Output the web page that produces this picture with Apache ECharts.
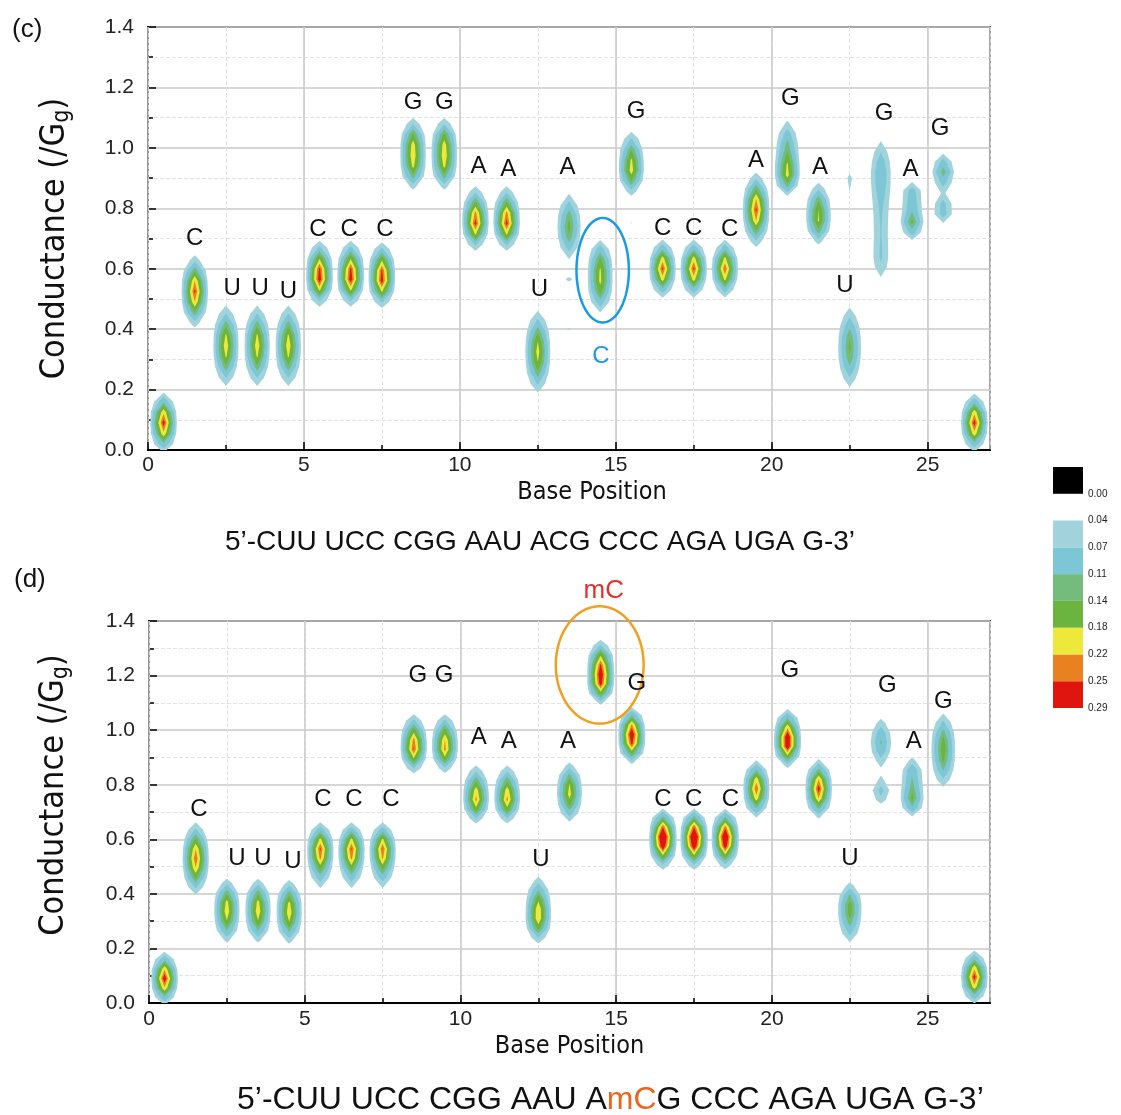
<!DOCTYPE html>
<html>
<head>
<meta charset="utf-8">
<script src="https://cdn.jsdelivr.net/npm/echarts@6/dist/echarts.min.js"></script>
<style>html,body{margin:0;padding:0;background:#fff}#chart{width:1121px;height:1115px}</style>
</head>
<body>
<div id="chart"></div>
<script>
// ---------------- data ----------------
// contour levels (density) and their colours
const LEVELS = [0.04, 0.07, 0.11, 0.14, 0.18, 0.22, 0.25];
const colorbarLabels = ['0.29', '0.25', '0.22', '0.18', '0.14', '0.11', '0.07', '0.04', '0.00'];

// panel (c): density peaks  [base position, conductance centre, peak density, spread]
const cPos    = [0.5, 1.5, 2.5, 3.5, 4.5, 5.5, 5.5, 6.5, 6.5, 7.5, 7.5, 8.5, 8.5, 9.5, 9.5, 10.5, 10.5, 11.5, 11.5, 12.5, 13.5, 13.5, 13.5, 14.5, 14.5, 15.5, 15.5, 15.5, 16.5, 17.5, 18.5, 19.5, 20.5, 20.5, 21.5, 21.5, 22.5, 22.5, 23.5, 23.5, 23.5, 23.5, 24.5, 24.5, 24.5, 25.5, 25.5, 26.5];
const cCond   = [0.09, 0.525, 0.345, 0.345, 0.345, 0.565, 0.63, 0.565, 0.63, 0.56, 0.625, 0.94, 1.02, 0.94, 1.02, 0.75, 0.82, 0.75, 0.82, 0.325, 0.74, 0.565, 0.40, 0.56, 0.64, 0.925, 1.0, 0.752, 0.60, 0.60, 0.60, 0.795, 0.91, 1.0, 0.76, 0.83, 0.89, 0.34, 0.92, 0.74, 0.62, 0.10, 0.755, 0.845, 0.175, 0.92, 0.795, 0.09];
const cPeak   = [0.27, 0.26, 0.21, 0.21, 0.21, 0.25, 0.10, 0.25, 0.10, 0.245, 0.10, 0.16, 0.16, 0.16, 0.16, 0.25, 0.07, 0.25, 0.07, 0.20, 0.155, 0.05, 0.045, 0.185, 0.06, 0.19, 0.08, 0.043, 0.26, 0.26, 0.25, 0.26, 0.16, 0.12, 0.17, 0.08, 0.048, 0.15, 0.10, 0.065, 0.045, 0.041, 0.15, 0.10, 0.045, 0.13, 0.10, 0.27];
const cSpread = [0.05, 0.06, 0.072, 0.072, 0.072, 0.045, 0.04, 0.045, 0.04, 0.045, 0.04, 0.045, 0.045, 0.045, 0.045, 0.045, 0.04, 0.045, 0.04, 0.075, 0.065, 0.01, 0.006, 0.06, 0.04, 0.045, 0.04, 0.004, 0.048, 0.048, 0.048, 0.062, 0.04, 0.06, 0.045, 0.04, 0.045, 0.08, 0.075, 0.09, 0.05, 0.004, 0.035, 0.03, 0.02, 0.038, 0.032, 0.048];

// panel (d)
const dPos    = [0.5, 1.5, 2.5, 2.5, 3.5, 3.5, 4.5, 4.5, 5.5, 5.5, 6.5, 6.5, 7.5, 7.5, 8.5, 8.5, 9.5, 9.5, 10.5, 10.5, 11.5, 11.5, 12.5, 12.5, 13.5, 13.5, 14.5, 14.5, 15.5, 15.5, 16.5, 16.5, 17.5, 17.5, 18.5, 18.5, 19.5, 20.5, 20.5, 21.5, 22.5, 22.5, 23.5, 23.5, 23.5, 24.5, 24.5, 24.5, 25.5, 25.5, 26.5];
const dCond   = [0.09, 0.53, 0.37, 0.30, 0.37, 0.30, 0.365, 0.295, 0.565, 0.48, 0.565, 0.48, 0.565, 0.48, 0.93, 1.0, 0.93, 1.0, 0.745, 0.82, 0.745, 0.82, 0.31, 0.39, 0.80, 0.74, 1.17, 1.245, 0.95, 1.01, 0.575, 0.63, 0.575, 0.63, 0.575, 0.63, 0.785, 0.94, 1.0, 0.785, 0.36, 0.28, 0.955, 0.775, -0.01, 0.75, 0.845, 0.175, 0.96, 0.87, 0.095];
const dPeak   = [0.28, 0.25, 0.15, 0.12, 0.15, 0.12, 0.15, 0.12, 0.24, 0.07, 0.24, 0.07, 0.235, 0.07, 0.235, 0.09, 0.215, 0.09, 0.22, 0.07, 0.22, 0.07, 0.19, 0.10, 0.13, 0.11, 0.22, 0.21, 0.2, 0.19, 0.2, 0.2, 0.2, 0.2, 0.19, 0.19, 0.25, 0.22, 0.17, 0.27, 0.14, 0.07, 0.115, 0.085, 0.06, 0.15, 0.10, 0.045, 0.13, 0.08, 0.27];
const dSpread = [0.048, 0.068, 0.05, 0.05, 0.05, 0.05, 0.05, 0.05, 0.05, 0.05, 0.05, 0.05, 0.05, 0.05, 0.045, 0.04, 0.045, 0.04, 0.045, 0.04, 0.045, 0.04, 0.05, 0.05, 0.05, 0.05, 0.04, 0.045, 0.04, 0.04, 0.045, 0.045, 0.045, 0.045, 0.045, 0.045, 0.055, 0.04, 0.045, 0.055, 0.05, 0.05, 0.058, 0.035, 0.02, 0.04, 0.038, 0.02, 0.065, 0.06, 0.048];

// base letters
const labelTextC = ['C','U','U','U','C','C','C','G','G','A','A','U','A','G','C','C','C','A','G','A','U','G','A','G'];
const labelXC = [1.5, 2.7, 3.6, 4.5, 5.45, 6.45, 7.6, 8.5, 9.5, 10.6, 11.55, 12.55, 13.45, 15.65, 16.5, 17.5, 18.65, 19.5, 20.6, 21.55, 22.35, 23.6, 24.45, 25.4];
const labelYC = [0.70, 0.535, 0.535, 0.525, 0.73, 0.73, 0.73, 1.15, 1.15, 0.94, 0.93, 0.53, 0.935, 1.12, 0.735, 0.735, 0.73, 0.96, 1.165, 0.935, 0.545, 1.115, 0.93, 1.065];
const labelTextD = ['C','U','U','U','C','C','C','G','G','A','A','U','A','G','C','C','C','G','U','G','A','G'];
const labelXD = [1.6, 2.82, 3.66, 4.62, 5.58, 6.58, 7.77, 8.63, 9.47, 10.59, 11.55, 12.58, 13.45, 15.66, 16.5, 17.49, 18.67, 20.57, 22.5, 23.7, 24.55, 25.5];
const labelYD = [0.71, 0.53, 0.53, 0.52, 0.745, 0.745, 0.745, 1.2, 1.2, 0.975, 0.96, 0.525, 0.96, 1.17, 0.745, 0.745, 0.745, 1.22, 0.53, 1.165, 0.96, 1.105];

// highlighted base notes and ellipses [cx, cy, rx, ry]
const noteC = ['C', 14.52, 0.31];
const noteD = ['mC', 14.6, 1.51];
const ellipseC = [14.58, 0.595, 0.84, 0.173];
const ellipseD = [14.47, 1.239, 1.41, 0.215];

const seqC = '5’-CUU UCC CGG AAU ACG CCC AGA UGA G-3’';
const seqD = '5’-CUU UCC CGG AAU A{m|mC}G CCC AGA UGA G-3’';

// ---------------- styles ----------------
const LEVEL_COLORS = ['#a0d3dc', '#7cc6d6', '#74bc7b', '#6bb43d', '#ede83a', '#ea8120', '#e0160e'];
const SANS = "'Liberation Sans', Arial, Helvetica, sans-serif";
const NARROW = "'Liberation Sans Narrow', 'Arial Narrow', 'DejaVu Sans Condensed', sans-serif";
const HALF_WIDTH = 0.5;
const Y_STEP = 0.035;

function makeComps(pos, cond, peak, spread) {
  return pos.map((p, i) => ({ pos: p, cond: cond[i], peak: peak[i], spread: spread[i] }));
}
const compsC = makeComps(cPos, cCond, cPeak, cSpread);
const compsD = makeComps(dPos, dCond, dPeak, dSpread);

function density(cs, y) {
  let v = 0;
  for (const c of cs) { const d = (y - c.cond) / c.spread; v += c.peak * Math.exp(-0.5 * d * d); }
  return v;
}
function contourRuns(cs) {
  let lo = Infinity, hi = -Infinity, minS = Infinity, main = cs[0];
  cs.forEach(c => {
    lo = Math.min(lo, c.cond - 4 * c.spread); hi = Math.max(hi, c.cond + 4 * c.spread);
    minS = Math.min(minS, c.spread); if (c.peak > main.peak) main = c;
  });
  const step = minS < 0.015 ? minS / 3 : Y_STEP;
  const ys = [], vs = [];
  const k0 = Math.floor((lo - main.cond) / step), k1 = Math.ceil((hi - main.cond) / step);
  for (let k = k0; k <= k1; k++) { const y = main.cond + k * step; ys.push(y); vs.push(density(cs, y)); }
  const runs = [];
  LEVELS.forEach((t, li) => {
    let run = null;
    for (let i = 0; i < ys.length; i++) {
      if (vs[i] > t) {
        if (!run) {
          let y0 = ys[i];
          if (i > 0) y0 = ys[i - 1] + (t - vs[i - 1]) / (vs[i] - vs[i - 1]) * step;
          run = { level: li, start: y0, pts: [] };
        }
        run.pts.push([ys[i], HALF_WIDTH * (1 - t / vs[i])]);
      } else if (run) {
        run.end = ys[i - 1] + (t - vs[i - 1]) / (vs[i] - vs[i - 1]) * step;
        runs.push(run); run = null;
      }
    }
    if (run) { run.end = ys[ys.length - 1]; runs.push(run); }
  });
  return runs;
}
function blobSeries(xi, yi, comps) {
  const positions = Array.from(new Set(comps.map(c => c.pos))).sort((a, b) => a - b);
  const groups = [];
  positions.forEach(p => {
    const here = comps.filter(c => c.pos === p);
    const broad = here.filter(c => c.spread >= 0.015);
    if (broad.length) groups.push(broad);
    here.filter(c => c.spread < 0.015).forEach(c => groups.push([c]));
  });
  return {
    type: 'custom', xAxisIndex: xi, yAxisIndex: yi, clip: true, z: 3, silent: true,
    encode: { x: 0, y: 1 },
    data: groups.map((g, i) => [g[0].pos, g[0].cond, i]),
    renderItem(params, api) {
      const cs = groups[api.value(2)];
      const pos = cs[0].pos;
      const runs = contourRuns(cs);
      const children = runs.map(r => {
        const pts = [api.coord([pos, r.start])];
        r.pts.forEach(([y, w]) => pts.push(api.coord([pos + w, y])));
        pts.push(api.coord([pos, r.end]));
        for (let k = r.pts.length - 1; k >= 0; k--) pts.push(api.coord([pos - r.pts[k][1], r.pts[k][0]]));
        return { type: 'polygon', shape: { points: pts }, style: { fill: LEVEL_COLORS[r.level] } };
      });
      return { type: 'group', children };
    }
  };
}
function ellipseSeries(xi, yi, e, color) {
  return {
    type: 'custom', xAxisIndex: xi, yAxisIndex: yi, clip: false, z: 5, silent: true,
    encode: { x: 0, y: 1 },
    data: [e],
    renderItem(params, api) {
      const cx = api.value(0), cy = api.value(1), rx = api.value(2), ry = api.value(3);
      const pts = [];
      for (let k = 0; k <= 160; k++) {
        const a = k / 160 * 2 * Math.PI;
        pts.push(api.coord([cx + rx * Math.cos(a), cy + ry * Math.sin(a)]));
      }
      return { type: 'polyline', shape: { points: pts }, style: { stroke: color, lineWidth: 2.5, fill: null } };
    }
  };
}
function labelSeries(xi, yi, texts, xs, ys, color, size) {
  return {
    type: 'custom', xAxisIndex: xi, yAxisIndex: yi, clip: false, z: 6, silent: true,
    encode: { x: 0, y: 1 },
    data: texts.map((t, i) => [xs[i], ys[i], i]),
    renderItem(params, api) {
      const p = api.coord([api.value(0), api.value(1)]);
      return {
        type: 'text', x: p[0], y: p[1],
        style: { text: texts[api.value(2)], fill: color, fontFamily: SANS, fontSize: size, align: 'center', verticalAlign: 'middle' }
      };
    }
  };
}
function xAxes(gi, nameOpts, labelMargin) {
  return [
    {
      gridIndex: gi, type: 'value', min: 0, max: 27, interval: 5, position: 'bottom', z: 2,
      axisLine: { show: true, onZero: false, lineStyle: { color: '#000', width: 2 } },
      axisTick: { show: true, inside: true, length: 8, lineStyle: { color: '#000', width: 1.5 } },
      splitLine: { show: true, lineStyle: { color: '#c9c9c9', width: 1.5 } },
      axisLabel: { fontFamily: SANS, fontSize: 21, color: '#222', margin: labelMargin, showMaxLabel: false },
      name: 'Base Position', nameLocation: 'middle', nameGap: nameOpts.gap,
      nameTextStyle: { fontFamily: NARROW, fontSize: 25, color: '#111', padding: nameOpts.padding }
    },
    {
      gridIndex: gi, type: 'value', min: 0, max: 27, interval: 2.5, position: 'bottom', z: 1,
      axisLine: { show: false }, axisLabel: { show: false },
      axisTick: { show: true, inside: true, length: 5, lineStyle: { color: '#000', width: 1.5 } },
      splitLine: { show: true, lineStyle: { color: '#e2e2e2', width: 1, type: 'dashed' } }
    }
  ];
}
function yAxis(gi, nameGap, namePadding) {
  return {
    gridIndex: gi, type: 'value', min: 0, max: 1.4, interval: 0.2,
    axisLine: { show: true, onZero: false, lineStyle: { color: '#000', width: 2 } },
    axisTick: { show: true, inside: true, length: 8, lineStyle: { color: '#000', width: 1.5 } },
    minorTick: { show: true, splitNumber: 2, length: 5, lineStyle: { color: '#000', width: 1.5 } },
    splitLine: { show: true, lineStyle: { color: '#c9c9c9', width: 1.5 } },
    minorSplitLine: { show: true, lineStyle: { color: '#e2e2e2', width: 1, type: 'dashed' } },
    axisLabel: { fontFamily: SANS, fontSize: 21, color: '#222', margin: 14, formatter: v => v.toFixed(1) },
    name: 'Conductance (/G{s|g})', nameLocation: 'middle', nameGap: nameGap, nameRotate: 90,
    nameTextStyle: {
      fontFamily: NARROW, fontSize: 34, color: '#111', padding: namePadding,
      rich: { s: { fontFamily: NARROW, fontSize: 23, color: '#111', padding: [15, 0, 0, 0] } }
    }
  };
}

const colorbarFill = LEVEL_COLORS.slice().reverse().concat(['rgba(0,0,0,0)', '#000000']);

const option = {
  animation: false,
  backgroundColor: '#ffffff',
  title: [
    { text: '(c)', left: 12, top: 17, padding: 0, textStyle: { fontFamily: SANS, fontSize: 26, fontWeight: 'normal', color: '#111' } },
    { text: '(d)', left: 14, top: 567, padding: 0, textStyle: { fontFamily: SANS, fontSize: 26, fontWeight: 'normal', color: '#111' } },
    { text: seqC, left: 225, top: 528, padding: 0, textStyle: { fontFamily: SANS, fontSize: 28, fontWeight: 'normal', color: '#111' } },
    { text: seqD, left: 237, top: 1084, padding: 0, textStyle: { fontFamily: SANS, fontSize: 32, fontWeight: 'normal', color: '#111',
        rich: { m: { fontFamily: SANS, fontSize: 32, color: '#e8661e' } } } }
  ],
  grid: [
    { left: 148, top: 27, width: 842, height: 423, show: true, borderColor: '#444', borderWidth: 2, backgroundColor: 'transparent', outerBoundsMode: 'none' },
    { left: 149, top: 621, width: 841, height: 382, show: true, borderColor: '#444', borderWidth: 2, backgroundColor: 'transparent', outerBoundsMode: 'none' },
    { left: 1053, top: 467, width: 30, height: 241, show: false, outerBoundsMode: 'none' }
  ],
  xAxis: [
    ...xAxes(0, { gap: 30, padding: [0, 0, 0, 46] }, 5),
    ...xAxes(1, { gap: 31, padding: [0, 0, 0, 0] }, 6),
    { gridIndex: 2, type: 'category', data: ['bar'], show: false }
  ],
  yAxis: [
    yAxis(0, 74, [0, 0, 0, 0]),
    yAxis(1, 76, [0, 0, 0, 34]),
    {
      gridIndex: 2, type: 'value', min: 0, max: 9, interval: 1, position: 'right',
      axisLine: { show: false }, axisTick: { show: false }, splitLine: { show: false },
      axisLabel: { show: true, margin: 5, fontFamily: SANS, fontSize: 10, color: '#222',
        formatter: v => (colorbarLabels[v] !== undefined ? colorbarLabels[v] : '') }
    }
  ],
  series: [
    blobSeries(0, 0, compsC),
    blobSeries(2, 1, compsD),
    ellipseSeries(0, 0, ellipseC, '#1a9be0'),
    ellipseSeries(2, 1, ellipseD, '#f0a01e'),
    labelSeries(0, 0, labelTextC, labelXC, labelYC, '#111', 24),
    labelSeries(2, 1, labelTextD, labelXD, labelYD, '#111', 24),
    labelSeries(0, 0, [noteC[0]], [noteC[1]], [noteC[2]], '#1a9be0', 24),
    labelSeries(2, 1, [noteD[0]], [noteD[1]], [noteD[2]], '#e2302a', 26),
    ...colorbarFill.map(c => ({
      type: 'bar', xAxisIndex: 4, yAxisIndex: 2, stack: 'cb', data: [1],
      barWidth: '100%', barCategoryGap: '0%', silent: true, itemStyle: { color: c }
    }))
  ]
};

const chart = echarts.init(document.getElementById('chart'), null, { renderer: 'canvas' });
chart.setOption(option);
</script>
</body>
</html>
